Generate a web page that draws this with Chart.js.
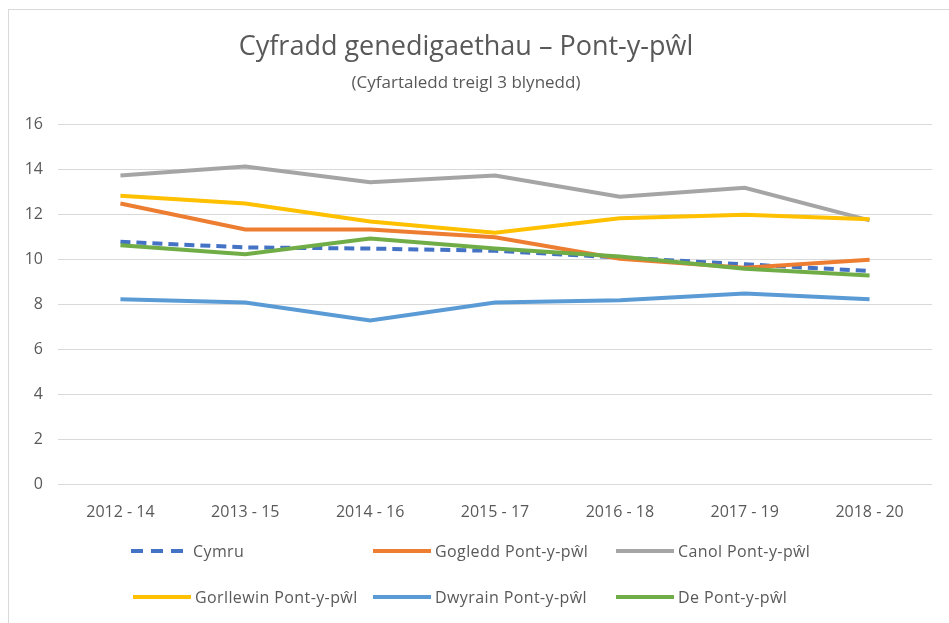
<!DOCTYPE html>
<html>
<head>
<meta charset="utf-8">
<script src="https://cdn.jsdelivr.net/npm/chart.js@4"></script>
<style>
  body { margin: 0; background: #fff; }
  #wrap { position: relative; width: 949px; height: 623px; }
  #frame { position: absolute; left: 8px; top: 9px; right: -2px; bottom: -2px; border: 1px solid #d9d9d9; }
  canvas { position: absolute; left: 0; top: 0; }
  #legend { position: absolute; left: 0; top: 0; width: 949px; height: 623px; pointer-events: none;
    font-family: "Open Sans", sans-serif; font-size: 16px; letter-spacing: 0.4px; color: #595959; }
  .item { position: absolute; display: flex; align-items: center; white-space: nowrap; transform: translateY(-50%); }
  .swatch { width: 58px; height: 0; border-top: 4px solid; margin-right: 4px; }
</style>
</head>
<body>
<div id="wrap">
  <div id="frame"></div>
  <canvas id="chart" width="949" height="623"></canvas>
  <div id="legend"></div>
</div>
<script>
const periods = ["2012 - 14", "2013 - 15", "2014 - 16", "2015 - 17", "2016 - 18", "2017 - 19", "2018 - 20"];
const seriesNames = ["Cymru", "Gogledd Pont-y-pŵl", "Canol Pont-y-pŵl", "Gorllewin Pont-y-pŵl", "Dwyrain Pont-y-pŵl", "De Pont-y-pŵl"];
const cymru     = [10.8, 10.55, 10.5, 10.4, 10.1, 9.8, 9.5];
const gogledd   = [12.5, 11.35, 11.35, 11.0, 10.05, 9.65, 10.0];
const canol     = [13.75, 14.15, 13.45, 13.75, 12.8, 13.2, 11.75];
const gorllewin = [12.85, 12.5, 11.7, 11.2, 11.85, 12.0, 11.8];
const dwyrain   = [8.25, 8.1, 7.3, 8.1, 8.2, 8.5, 8.25];
const de        = [10.65, 10.25, 10.95, 10.5, 10.15, 9.6, 9.3];
const yTicks = [0, 2, 4, 6, 8, 10, 12, 14, 16];

const seriesData = [cymru, gogledd, canol, gorllewin, dwyrain, de];
const colors = ["#4472C4", "#ED7D31", "#A5A5A5", "#FFC000", "#5B9BD5", "#70AD47"];
const font = "'Open Sans', sans-serif";

const datasets = seriesNames.map((name, i) => ({
  label: name,
  data: seriesData[i],
  borderColor: colors[i],
  backgroundColor: colors[i],
  borderWidth: 4,
  borderDash: i === 0 ? [10, 6] : [],
  pointRadius: 0,
  tension: 0,
  order: 6 - i // later series on top, like the original
}));

new Chart(document.getElementById("chart"), {
  type: "line",
  data: { labels: periods, datasets },
  options: {
    responsive: false,
    animation: false,
    layout: { padding: { top: 31, right: 17, bottom: 83, left: 0 } },
    plugins: {
      legend: { display: false },
      tooltip: { enabled: false },
      title: {
        display: true,
        text: "Cyfradd genedigaethau – Pont-y-pŵl",
        color: "#595959",
        font: { family: font, size: 27, weight: "normal" },
        padding: { top: 0, bottom: 10 }
      },
      subtitle: {
        display: true,
        text: "(Cyfartaledd treigl 3 blynedd)",
        color: "#595959",
        font: { family: font, size: 17 },
        padding: { top: 0, bottom: 31 }
      }
    },
    scales: {
      x: {
        offset: true,
        grid: { display: false, drawTicks: false },
        border: { display: false },
        ticks: { color: "#595959", font: { family: font, size: 16 }, padding: 18, maxRotation: 0 }
      },
      y: {
        min: 0,
        max: 16,
        afterFit: s => { s.width = 58; },
        afterBuildTicks: s => { s.ticks = yTicks.map(v => ({ value: v })); },
        grid: { color: "#d9d9d9", lineWidth: 1, drawTicks: false },
        border: { display: false },
        ticks: { color: "#595959", font: { family: font, size: 16 }, padding: 15 }
      }
    }
  }
});

// legend laid out in a 3-column grid like the original
const legendPos = [
  [131, 551], [373, 551], [616, 551],
  [133, 597], [373, 597], [616, 597]
];
const legend = document.getElementById("legend");
seriesNames.forEach((name, i) => {
  const item = document.createElement("div");
  item.className = "item";
  item.style.left = legendPos[i][0] + "px";
  item.style.top = legendPos[i][1] + "px";
  const sw = document.createElement("span");
  sw.className = "swatch";
  if (i === 0) {
    sw.style.borderTop = "none";
    sw.style.height = "4px";
    sw.style.background = `repeating-linear-gradient(90deg, ${colors[i]} 0 12px, transparent 12px 20px)`;
  } else {
    sw.style.borderTopColor = colors[i];
  }
  const txt = document.createElement("span");
  txt.textContent = name;
  item.appendChild(sw);
  item.appendChild(txt);
  legend.appendChild(item);
});
</script>
</body>
</html>
